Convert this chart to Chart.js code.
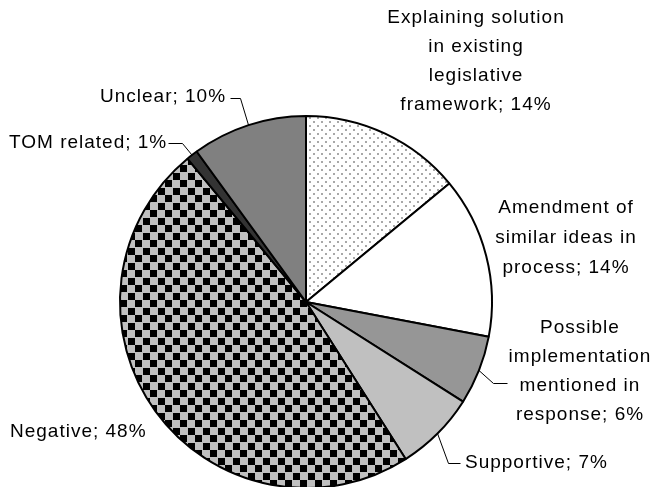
<!DOCTYPE html>
<html lang="en">

<head>
    <meta charset="UTF-8">
    <meta name="viewport" content="width=device-width, initial-scale=1.0">
    <script src="https://cdn.jsdelivr.net/npm/chart.js"></script>
    <title>Responses</title>
    <style>
        html, body {
            margin: 0;
            background: #fff;
            overflow: hidden;
        }

        .grafico {
            position: relative;
            width: 651px;
            height: 500px;
        }
    </style>
</head>

<body>

    <div class="grafico">
        <canvas id="graficoPizza"></canvas>
    </div>

</body>

</html>

<script>

    // answers grouped by type, share of total in %
    const categorias = [
        'Explaining solution in existing legislative framework',
        'Amendment of similar ideas in process',
        'Possible implementation mentioned in response',
        'Supportive',
        'Negative',
        'TOM related',
        'Unclear'
    ];
    const percentuais = [14, 14, 6, 7, 48, 1, 10];

    // where each label goes (same order as categorias)
    const rotulos = [
        { x: 476, y: 18, align: 'center', largura: 184, linha: 29 },
        { x: 566, y: 208, align: 'center', largura: 150, linha: 30 },
        { x: 580, y: 328, align: 'center', largura: 150, linha: 29, guia: [[493, 383], [507, 383]] },
        { x: 465, y: 463, align: 'left', guia: [[448, 463], [460, 463]] },
        { x: 10, y: 432, align: 'left' },
        { x: 9, y: 143, align: 'left', guia: [[182, 143], [168, 143]] },
        { x: 100, y: 97, align: 'left', guia: [[240, 98], [230, 98]] }
    ];

    function padrao(tam, desenhar) {
        const c = document.createElement('canvas');
        c.width = tam;
        c.height = tam;
        const g = c.getContext('2d');
        desenhar(g);
        return g.createPattern(c, 'repeat');
    }

    const ctx = document.getElementById('graficoPizza').getContext('2d');

    const pontilhado = padrao(8, g => {
        g.fillStyle = '#fff';
        g.fillRect(0, 0, 8, 8);
        g.fillStyle = '#a8a8a8';
        g.fillRect(1, 1, 2, 2);
        g.fillRect(5, 5, 2, 2);
    });

    const xadrez = padrao(15, g => {
        g.fillStyle = '#c0c0c0';
        g.fillRect(0, 0, 15, 15);
        g.fillStyle = '#000';
        g.fillRect(0, 0, 7, 7);
        g.fillRect(8, 8, 7, 7);
    });

    const cores = [pontilhado, '#ffffff', '#969696', '#c0c0c0', xadrez, '#333333', '#808080'];

    function quebrarLinhas(g, texto, largura) {
        if (!largura) return [texto];
        const palavras = texto.split(' ');
        const linhas = [];
        let atual = '';
        palavras.forEach(p => {
            const teste = atual ? atual + ' ' + p : p;
            if (atual && g.measureText(teste).width > largura) {
                linhas.push(atual);
                atual = p;
            } else {
                atual = teste;
            }
        });
        linhas.push(atual);
        return linhas;
    }

    const rotulosPlugin = {
        id: 'rotulos',
        afterDatasetsDraw(chart) {
            const g = chart.ctx;
            const arcos = chart.getDatasetMeta(0).data;
            g.save();
            g.font = '19px "Liberation Sans", Arial, sans-serif';
            g.letterSpacing = '1px';
            g.fillStyle = '#000';
            g.textBaseline = 'middle';

            arcos.forEach((arco, i) => {
                const r = rotulos[i];
                const texto = categorias[i] + '; ' + percentuais[i] + '%';
                const linhas = quebrarLinhas(g, texto, r.largura);

                g.textAlign = r.align;
                linhas.forEach((l, k) => {
                    g.fillText(l, r.x, r.y + k * (r.linha || 29));
                });

                // leader line from the middle of the slice edge
                if (r.guia) {
                    const meio = (arco.startAngle + arco.endAngle) / 2;
                    g.beginPath();
                    g.moveTo(arco.x + Math.cos(meio) * arco.outerRadius, arco.y + Math.sin(meio) * arco.outerRadius);
                    r.guia.forEach(p => g.lineTo(p[0] + 0.5, p[1] + 0.5));
                    g.strokeStyle = '#000';
                    g.lineWidth = 1;
                    g.stroke();
                }
            });
            g.restore();
        }
    };

    const grafico = new Chart(ctx, {
        type: 'pie',
        data: {
            labels: categorias,
            datasets: [{
                data: percentuais,
                backgroundColor: cores,
                borderColor: '#000',
                borderWidth: 2,
                hoverOffset: 0
            }]
        },
        options: {
            responsive: true,
            maintainAspectRatio: false,
            animation: false,
            events: [],
            layout: {
                padding: { left: 119, right: 158, top: 115, bottom: 11 }
            },
            plugins: {
                legend: { display: false },
                tooltip: { enabled: false }
            }
        },
        plugins: [rotulosPlugin]
    });

</script>
